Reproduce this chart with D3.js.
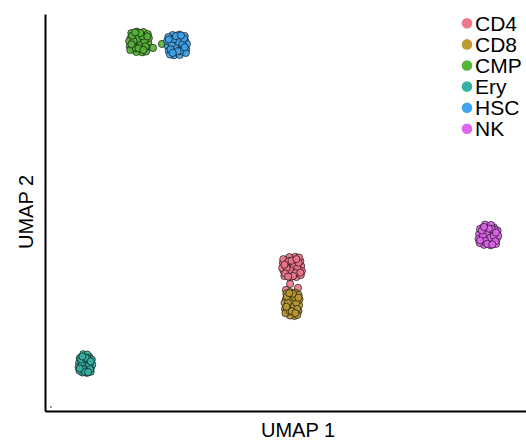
<!DOCTYPE html>
<html>
<head>
<meta charset="utf-8">
<script src="https://cdn.jsdelivr.net/npm/d3@7"></script>
<style>
  body { margin: 0; background: #fff; }
  svg { display: block; font-family: "Liberation Sans", Arial, sans-serif; }
</style>
</head>
<body>
<svg id="chart" width="526" height="440"></svg>
<script>
// cell types shown in the legend, same order as the colours
var cellTypes = ['CD4', 'CD8', 'CMP', 'Ery', 'HSC', 'NK'];
var typeColors = ['#f0768b', '#bd9a33', '#55b535', '#35b2a5', '#40a5ec', '#e065ee'];

// UMAP coordinates, one array per cell type
var cd4Points = [[1.30,-0.75],[1.48,-0.80],[1.13,-0.83],[1.35,-0.97],[1.20,-0.55],[1.52,-0.60],[1.00,-0.70],[1.65,-0.87],[1.40,-1.15],[1.10,-1.10],[1.60,-1.07],[0.92,-0.95],[1.32,-0.33],[1.05,-0.37],[1.58,-0.40],[1.72,-0.70],[0.88,-0.53],[1.45,-0.23],[1.20,-1.27],[1.50,-1.25],[0.95,-1.20],[1.70,-1.15],[1.25,-0.65],[1.40,-0.50],[1.08,-0.93],[1.55,-0.95],[1.18,-0.25],[1.68,-0.45],[0.85,-0.80],[1.75,-0.95],[1.30,-1.05],[1.00,-0.50],[1.42,-0.87],[1.22,-1.15],[1.62,-0.27],[0.90,-0.35],
  [1.38,-0.70],[1.22,-0.90],[1.55,-0.80],[1.05,-0.80],[1.45,-1.05],[1.15,-0.45],[1.60,-0.53],[0.98,-1.07],[1.35,-1.20],[1.28,-0.43],[1.50,-0.35],[0.95,-0.63],[1.68,-1.03],[1.12,-1.23],
  [1.21,-1.60],[1.57,-1.80],[1.02,-1.90]];
var cd8Points = [[1.30,-2.61],[1.44,-2.55],[1.17,-2.52],[1.34,-2.36],[1.22,-2.84],[1.47,-2.78],[1.08,-2.67],[1.56,-2.47],[1.38,-2.15],[1.15,-2.21],[1.52,-2.24],[1.02,-2.38],[1.32,-3.09],[1.11,-3.05],[1.51,-3.01],[1.62,-2.67],[0.98,-2.86],[1.41,-3.21],[1.22,-2.01],[1.45,-2.04],[1.04,-2.09],[1.60,-2.15],[1.26,-2.73],[1.38,-2.90],[1.14,-2.40],[1.49,-2.38],[1.21,-3.19],[1.59,-2.96],[0.96,-2.55],[1.64,-2.38],[1.30,-2.27],[1.08,-2.90],[1.39,-2.47],[1.24,-2.15],[1.54,-3.16],[1.00,-3.07],
  [1.36,-2.67],[1.24,-2.44],[1.49,-2.55],[1.11,-2.55],[1.41,-2.27],[1.19,-2.96],[1.53,-2.86],[1.06,-2.24],[1.34,-2.09],[1.29,-2.98],[1.45,-3.07],[1.04,-2.75],[1.59,-2.29],[1.17,-2.06]];
var cmpPoints = [[-5.70,10.59],[-5.52,10.64],[-5.87,10.67],[-5.65,10.81],[-5.80,10.39],[-5.48,10.44],[-6.00,10.54],[-5.35,10.71],[-5.60,10.99],[-5.90,10.94],[-5.40,10.91],[-6.08,10.79],[-5.68,10.17],[-5.95,10.21],[-5.42,10.24],[-5.28,10.54],[-6.12,10.37],[-5.55,10.07],[-5.80,11.11],[-5.50,11.09],[-6.05,11.04],[-5.30,10.99],[-5.75,10.49],[-5.60,10.34],[-5.92,10.77],[-5.45,10.79],[-5.82,10.09],[-5.32,10.29],[-6.15,10.64],[-5.25,10.79],[-5.70,10.89],[-6.00,10.34],[-5.58,10.71],[-5.78,10.99],[-5.38,10.11],[-6.10,10.19],
  [-5.62,10.54],[-5.78,10.74],[-5.45,10.64],[-5.95,10.64],[-5.55,10.89],[-5.85,10.29],[-5.40,10.37],[-6.02,10.91],[-5.65,11.04],[-5.72,10.27],[-5.50,10.19],[-6.05,10.47],[-5.32,10.87],[-5.88,11.07],
  [-5.06,10.29],[-4.65,10.49]];
var eryPoints = [[-8.15,-5.61],[-8.27,-5.66],[-8.03,-5.68],[-8.18,-5.81],[-8.08,-5.43],[-8.30,-5.48],[-7.95,-5.57],[-8.39,-5.72],[-8.22,-5.97],[-8.01,-5.93],[-8.35,-5.90],[-7.89,-5.79],[-8.16,-5.23],[-7.98,-5.27],[-8.34,-5.30],[-8.44,-5.57],[-7.86,-5.41],[-8.25,-5.14],[-8.08,-6.08],[-8.29,-6.06],[-7.91,-6.02],[-8.42,-5.97],[-8.12,-5.52],[-8.22,-5.39],[-8.00,-5.77],[-8.32,-5.79],[-8.07,-5.16],[-8.41,-5.34],[-7.84,-5.66],[-8.46,-5.79],
  [-8.20,-5.57],[-8.10,-5.75],[-8.32,-5.66],[-7.98,-5.66],[-8.25,-5.88],[-8.05,-5.34],[-8.35,-5.41],[-7.93,-5.90],[-8.18,-6.02],[-8.14,-5.32],[-8.29,-5.25],[-7.91,-5.50],[-8.41,-5.86],[-8.03,-6.04]];
var hscPoints = [[-3.96,10.44],[-4.14,10.49],[-3.79,10.52],[-4.01,10.66],[-3.86,10.24],[-4.18,10.29],[-3.66,10.39],[-4.31,10.56],[-4.06,10.84],[-3.76,10.79],[-4.26,10.76],[-3.58,10.64],[-3.98,10.02],[-3.71,10.06],[-4.24,10.09],[-4.38,10.39],[-3.54,10.22],[-4.11,9.92],[-3.86,10.96],[-4.16,10.94],[-3.61,10.89],[-4.36,10.84],[-3.91,10.34],[-4.06,10.19],[-3.74,10.62],[-4.21,10.64],[-3.84,9.94],[-4.34,10.14],[-3.51,10.49],[-4.41,10.64],[-3.96,10.74],[-3.66,10.19],[-4.08,10.56],[-3.88,10.84],[-4.28,9.96],[-3.56,10.04],
  [-4.04,10.39],[-3.88,10.59],[-4.21,10.49],[-3.71,10.49],[-4.11,10.74],[-3.81,10.14],[-4.26,10.22],[-3.64,10.76],[-4.01,10.89],[-3.94,10.12],[-4.16,10.04],[-3.61,10.32],[-4.34,10.72],[-3.78,10.92]];
var nkPoints = [[10.28,0.87],[10.10,0.82],[10.45,0.79],[10.23,0.65],[10.38,1.07],[10.06,1.02],[10.58,0.92],[9.93,0.75],[10.18,0.47],[10.48,0.52],[9.98,0.55],[10.66,0.67],[10.26,1.29],[10.53,1.25],[10.00,1.22],[9.86,0.92],[10.70,1.09],[10.13,1.39],[10.38,0.35],[10.08,0.37],[10.63,0.42],[9.88,0.47],[10.33,0.97],[10.18,1.12],[10.50,0.69],[10.03,0.67],[10.40,1.37],[9.90,1.17],[10.73,0.82],[9.83,0.67],[10.28,0.57],[10.58,1.12],
  [10.20,0.92],[10.36,0.72],[10.03,0.82],[10.53,0.82],[10.13,0.57],[10.43,1.17],[9.98,1.09],[10.60,0.55],[10.23,0.42],[10.30,1.19],[10.08,1.27],[10.63,0.99],[9.90,0.59],[10.46,0.39]];
// the lone speck near the origin
var strayPoints = [[-9.73,-7.80]];

var pointsByType = [cd4Points, cd8Points, cmpPoints, eryPoints, hscPoints, nkPoints];

var svg = d3.select('#chart');

var x = d3.scaleLinear().domain([-10, 12]).range([45, 526]);
var y = d3.scaleLinear().domain([-8, 12]).range([411, 14]);
var color = d3.scaleOrdinal().domain(cellTypes).range(typeColors);

// flatten into rows the way ggplot would draw them
var rows = [];
cellTypes.forEach(function(t, i) {
    pointsByType[i].forEach(function(p) {
        rows.push({ type: t, ux: p[0], uy: p[1] });
    });
});

svg.append('g')
    .selectAll('circle')
    .data(rows)
    .enter()
    .append('circle')
    .attr('cx', function(d) { return x(d.ux); })
    .attr('cy', function(d) { return y(d.uy); })
    .attr('r', 3.6)
    .style('fill', function(d) { return color(d.type); })
    .style('fill-opacity', 0.9)
    .style('stroke', '#111')
    .style('stroke-opacity', 0.85)
    .style('stroke-width', 0.8);

svg.append('g')
    .selectAll('circle')
    .data(strayPoints)
    .enter()
    .append('circle')
    .attr('cx', function(d) { return x(d[0]); })
    .attr('cy', function(d) { return y(d[1]); })
    .attr('r', 0.7)
    .style('fill', '#000');

// axes without ticks, just the lines
var xAxis = svg.append('g')
    .attr('transform', 'translate(0,' + y.range()[0] + ')')
    .call(d3.axisBottom(x).tickValues([]).tickSizeOuter(0));
var yAxis = svg.append('g')
    .attr('transform', 'translate(' + x.range()[0] + ',0)')
    .call(d3.axisLeft(y).tickValues([]).tickSizeOuter(0));
[xAxis, yAxis].forEach(function(a) {
    a.select('.domain').style('stroke', '#000').style('stroke-width', 2);
});

svg.append('text')
    .attr('x', 298)
    .attr('y', 437)
    .style('text-anchor', 'middle')
    .style('font-size', '20px')
    .text('UMAP 1');

svg.append('text')
    .attr('transform', 'translate(33,212) rotate(-90)')
    .style('text-anchor', 'middle')
    .style('font-size', '20px')
    .text('UMAP 2');

// legend in the top right corner
var legend = svg.append('g')
    .selectAll('g')
    .data(cellTypes)
    .enter()
    .append('g')
    .attr('transform', function(d, i) {
        return 'translate(467,' + (23.3 + i * 21.1) + ')';
    });

legend.append('circle')
    .attr('r', 5.3)
    .style('fill', function(d) { return color(d); });

legend.append('text')
    .attr('x', 8)
    .attr('dy', '0.36em')
    .style('font-size', '21px')
    .text(function(d) { return d; });
</script>
</body>
</html>
